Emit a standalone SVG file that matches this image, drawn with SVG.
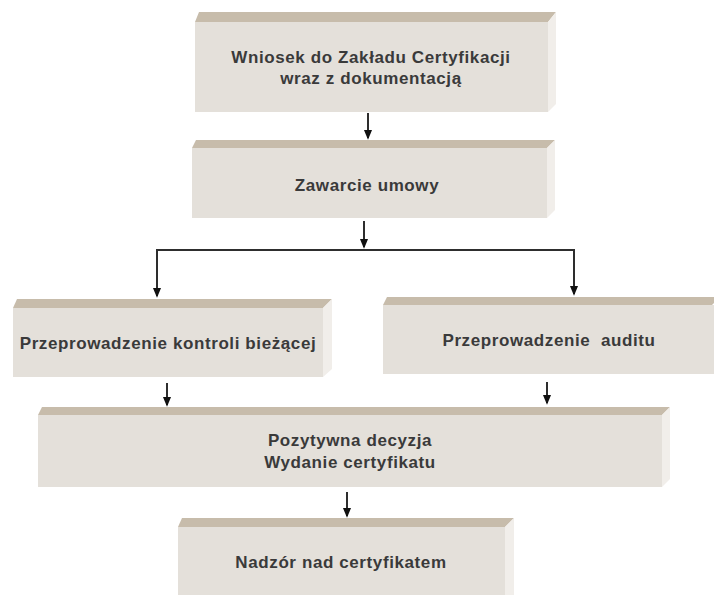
<svg xmlns="http://www.w3.org/2000/svg" width="714" height="595" viewBox="0 0 714 595">
<defs>
<marker id="ah" markerUnits="userSpaceOnUse" markerWidth="10" markerHeight="12" viewBox="0 0 12 10" refX="10" refY="5" orient="auto">
<path d="M0,0 L12,5 L0,10 z" fill="#111"/>
</marker>
</defs>
<style>
.front{fill:#e4e0da}
.top{fill:#c7bcab}
.side{fill:#f1eeea}
.lbl{font-family:"Liberation Sans",Arial,sans-serif;font-weight:bold;font-size:17px;letter-spacing:0.6px;fill:#3a3a3a;text-anchor:middle}
.con{stroke:#2e2e2e;stroke-width:2;fill:none}
</style>
<rect width="714" height="595" fill="#ffffff"/>

<g id="n1">
<polygon class="top" points="195,22 199,12 556,12 548,22"/>
<polygon class="side" points="548,22 556,12 556,104 548,112"/>
<rect class="front" x="195" y="22" width="353" height="90"/>
<text class="lbl" x="371" y="63">Wniosek do Zakładu Certyfikacji</text>
<text class="lbl" x="371" y="84">wraz z dokumentacją</text>
</g>

<g id="n2">
<polygon class="top" points="192,148 196,140 555,140 547,148"/>
<polygon class="side" points="547,148 555,140 555,210 547,218"/>
<rect class="front" x="192" y="148" width="355" height="70"/>
<text class="lbl" x="367" y="191">Zawarcie umowy</text>
</g>

<g id="n3">
<polygon class="top" points="13,308 17,299 332,299 323,308"/>
<polygon class="side" points="323,308 332,299 332,369 323,377"/>
<rect class="front" x="13" y="308" width="310" height="69"/>
<text class="lbl" x="168" y="349">Przeprowadzenie kontroli bieżącej</text>
</g>

<g id="n4">
<polygon class="top" points="383,305 387,297 720,297 712,305"/>
<rect class="front" x="383" y="305" width="331" height="69"/>
<text class="lbl" x="549" y="346" xml:space="preserve">Przeprowadzenie  auditu</text>
</g>

<g id="n5">
<polygon class="top" points="38,415 42,407 670,407 662,415"/>
<polygon class="side" points="662,415 670,407 670,479 662,487"/>
<rect class="front" x="38" y="415" width="624" height="72"/>
<text class="lbl" x="350" y="446">Pozytywna decyzja</text>
<text class="lbl" x="350" y="468">Wydanie certyfikatu</text>
</g>

<g id="n6">
<polygon class="top" points="178,527 182,518 514,518 505,527"/>
<polygon class="side" points="505,527 514,518 514,595 505,595"/>
<rect class="front" x="178" y="527" width="327" height="68"/>
<text class="lbl" x="341" y="568">Nadzór nad certyfikatem</text>
</g>

<g id="connectors">
<path class="con" d="M368,113 V138" marker-end="url(#ah)"/>
<path class="con" d="M364,221 V247" marker-end="url(#ah)"/>
<path class="con" d="M157,250 H574"/>
<path class="con" d="M157,249 V296" marker-end="url(#ah)"/>
<path class="con" d="M574,249 V294" marker-end="url(#ah)"/>
<path class="con" d="M167,383 V405" marker-end="url(#ah)"/>
<path class="con" d="M547,382 V403" marker-end="url(#ah)"/>
<path class="con" d="M347,492 V516" marker-end="url(#ah)"/>
</g>
</svg>
